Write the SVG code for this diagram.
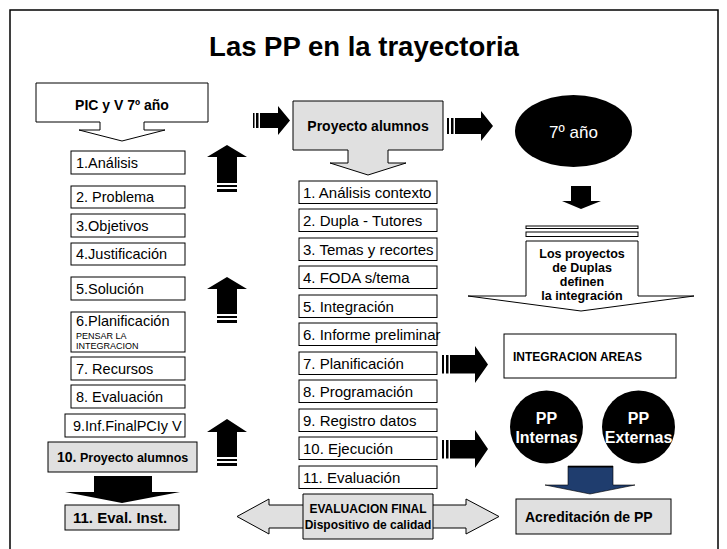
<svg xmlns="http://www.w3.org/2000/svg" width="727" height="549" viewBox="0 0 727 549">
<style>
text{font-family:"Liberation Sans",Arial,sans-serif;fill:#000}
.box{fill:#fff;stroke:#000;stroke-width:1}
.gbox{fill:#e0e0e0;stroke:#000;stroke-width:1}
.blk{fill:#000;stroke:none}
.l{font-size:14.5px}
.m{font-size:15px}
.b{font-weight:bold}
.w{fill:#fff}
</style>
<rect x="10" y="10" width="708" height="580" fill="#fff" stroke="#000" stroke-width="1.5"/>
<text x="364" y="56" text-anchor="middle" class="b" font-size="27.5">Las PP en la trayectoria</text>

<g id="connectors">
  <g id="arrow-right-1">
    <rect class="blk" x="253" y="113" width="1.5" height="15"/>
    <rect class="blk" x="256" y="113" width="2.5" height="15"/>
    <path class="blk" d="M260,113 H278 V106 L290,120.5 L278,135 V128 H260 Z"/>
  </g>
  <g id="arrow-right-2">
    <rect class="blk" x="447" y="118" width="2" height="16"/>
    <rect class="blk" x="451" y="118" width="2.5" height="16"/>
    <path class="blk" d="M455,118 H481 V111 L493,126 L481,141 V134 H455 Z"/>
  </g>
  <g id="arrow-right-3">
    <rect class="blk" x="442" y="355" width="2" height="18.5"/>
    <rect class="blk" x="446" y="355" width="2.5" height="18.5"/>
    <path class="blk" d="M450,355 H475 V346 L488,364.5 L475,383 V373.5 H450 Z"/>
  </g>
  <g id="arrow-right-4">
    <rect class="blk" x="442" y="440" width="2" height="18.5"/>
    <rect class="blk" x="446" y="440" width="2.5" height="18.5"/>
    <path class="blk" d="M450,440 H475 V430 L488,449 L475,468 V458.5 H450 Z"/>
  </g>
  <g id="arrow-up-1">
    <path class="blk" d="M217,183 V157 H207 L227,145 L247,157 H237 V183 Z"/>
    <rect class="blk" x="217" y="185" width="20" height="2"/>
    <rect class="blk" x="217" y="189" width="20" height="3"/>
  </g>
  <g id="arrow-up-2">
    <path class="blk" d="M217,314 V289 H207 L227,277 L247,289 H237 V314 Z"/>
    <rect class="blk" x="217" y="316" width="20" height="2"/>
    <rect class="blk" x="217" y="320" width="20" height="3"/>
  </g>
  <g id="arrow-up-3">
    <path class="blk" d="M217,457 V432 H207 L227,419 L247,432 H237 V457 Z"/>
    <rect class="blk" x="217" y="459" width="20" height="2"/>
    <rect class="blk" x="217" y="463" width="20" height="3"/>
  </g>
  <g id="arrow-down-left">
    <path class="blk" d="M94,476 H152 V492 H180 L122,503 L65,492 H94 Z"/>
  </g>
  <g id="arrow-down-7">
    <path class="blk" d="M571,186 H591 V201 H601 L581,209 L562,201 H571 Z"/>
  </g>
  <g id="arrow-down-blue">
    <path d="M568,466 H613 V485 H635 L590,494 L545,485 H568 Z" fill="#1f3d6e" stroke="#000" stroke-width="0.6"/>
    <rect class="blk" x="568" y="466" width="45" height="1.5"/>
  </g>
</g>

<g id="pic">
  <path class="box" d="M36,83 H208 V122 H144 V130 H165 L122,141 L79,130 H100 V122 H36 Z"/>
  <text x="122" y="110" text-anchor="middle" class="b" font-size="14">PIC y V 7º año</text>
</g>

<g id="l1"><rect class="box" x="71" y="151" width="114" height="23"/><text x="76" y="168" class="l">1.Análisis</text></g>
<g id="l2"><rect class="box" x="71" y="186" width="114" height="22"/><text x="76" y="202" class="l">2. Problema</text></g>
<g id="l3"><rect class="box" x="71" y="214" width="114" height="23"/><text x="76" y="231" class="l">3.Objetivos</text></g>
<g id="l4"><rect class="box" x="71" y="243" width="114" height="22"/><text x="76" y="259" class="l">4.Justificación</text></g>
<g id="l5"><rect class="box" x="71" y="277" width="114" height="23"/><text x="76" y="294" class="l">5.Solución</text></g>
<g id="l6"><rect class="box" x="71" y="312" width="114" height="40"/><text x="76" y="326" class="l">6.Planificación</text><text x="76" y="338.5" font-size="9">PENSAR LA</text><text x="76" y="349" font-size="9">INTEGRACION</text></g>
<g id="l7"><rect class="box" x="71" y="357" width="114" height="23"/><text x="76" y="374" class="l">7. Recursos</text></g>
<g id="l8"><rect class="box" x="71" y="385" width="114" height="23"/><text x="76" y="402" class="l">8. Evaluación</text></g>
<g id="l9"><rect class="box" x="65" y="414" width="120" height="23"/><text x="73" y="431" class="l">9.Inf.FinalPCIy V</text></g>
<g id="l10"><rect class="gbox" x="48" y="442" width="149" height="30"/><text x="57" y="462" class="b"><tspan font-size="14">10.</tspan><tspan font-size="12.5"> Proyecto alumnos</tspan></text></g>
<g id="l11"><rect class="gbox" x="65" y="505" width="114" height="25"/><text x="73" y="523" class="b" font-size="15">11. Eval. Inst.</text></g>

<g id="proyecto">
  <path class="gbox" d="M293,101 H443 V150 H388 V163 H406 L368,175 L330,163 H348 V150 H293 Z"/>
  <text x="368" y="131" text-anchor="middle" class="b" font-size="14">Proyecto alumnos</text>
</g>

<g id="m1"><rect class="box" x="299" y="181" width="138" height="22.5"/><text x="303" y="197.5" class="m">1. Análisis contexto</text></g>
<g id="m2"><rect class="box" x="299" y="209" width="138" height="22.5"/><text x="303" y="225.5" class="m">2. Dupla - Tutores</text></g>
<g id="m3"><rect class="box" x="299" y="238" width="138" height="22.5"/><text x="303" y="254.5" class="m">3. Temas y recortes</text></g>
<g id="m4"><rect class="box" x="299" y="266" width="138" height="22.5"/><text x="303" y="282.5" class="m">4. FODA s/tema</text></g>
<g id="m5"><rect class="box" x="299" y="295" width="138" height="22.5"/><text x="303" y="311.5" class="m">5. Integración</text></g>
<g id="m6"><rect class="box" x="299" y="323" width="138" height="22.5"/><text x="303" y="339.5" class="m">6. Informe preliminar</text></g>
<g id="m7"><rect class="box" x="299" y="352" width="138" height="22.5"/><text x="303" y="368.5" class="m">7. Planificación</text></g>
<g id="m8"><rect class="box" x="299" y="380" width="138" height="22.5"/><text x="303" y="396.5" class="m">8. Programación</text></g>
<g id="m9"><rect class="box" x="299" y="409" width="138" height="22.5"/><text x="303" y="425.5" class="m">9. Registro datos</text></g>
<g id="m10"><rect class="box" x="299" y="437" width="138" height="22.5"/><text x="303" y="453.5" class="m">10. Ejecución</text></g>
<g id="m11"><rect class="box" x="299" y="466" width="138" height="22.5"/><text x="303" y="482.5" class="m">11. Evaluación</text></g>

<g id="evaluacion-final">
  <path class="gbox" d="M303,494 H433 V505 H466 V499 L499,516.5 L466,534 V528 H433 V539 H303 V528 H269 V534 L237,516.5 L269,499 V505 H303 Z"/>
  <path d="M303,505 V528 M433,505 V528" stroke="#000" stroke-width="1"/>
  <text x="368" y="513" text-anchor="middle" class="b" font-size="12">EVALUACION FINAL</text>
  <text x="368" y="529" text-anchor="middle" class="b" font-size="12">Dispositivo de calidad</text>
</g>

<g id="septimo">
  <ellipse cx="573.5" cy="131" rx="58.5" ry="36" fill="#000"/>
  <text x="573.5" y="138" text-anchor="middle" class="w" font-size="17">7º año</text>
</g>

<g id="duplas">
  <rect class="box" x="526" y="226" width="112" height="2.5"/>
  <rect class="box" x="526" y="232" width="112" height="4.5"/>
  <path class="box" d="M526,241 H638 V296 H694 L581,311 L468,296 H526 Z"/>
  <text x="582" y="258" text-anchor="middle" class="b" font-size="12.5">Los proyectos</text>
  <text x="582" y="272" text-anchor="middle" class="b" font-size="12.5">de Duplas</text>
  <text x="582" y="286" text-anchor="middle" class="b" font-size="12.5">definen</text>
  <text x="582" y="300" text-anchor="middle" class="b" font-size="12.5">la integración</text>
</g>

<g id="integracion">
  <rect class="box" x="504" y="334" width="172" height="44"/>
  <text x="513" y="361" class="b" font-size="12">INTEGRACION AREAS</text>
</g>

<g id="pp-internas">
  <circle cx="546.5" cy="427" r="36.5" fill="#000"/>
  <text x="546.5" y="424" text-anchor="middle" class="b w" font-size="16">PP</text>
  <text x="546.5" y="443" text-anchor="middle" class="b w" font-size="16">Internas</text>
</g>
<g id="pp-externas">
  <circle cx="638.5" cy="427" r="36.5" fill="#000"/>
  <text x="638.5" y="424" text-anchor="middle" class="b w" font-size="16">PP</text>
  <text x="638.5" y="443" text-anchor="middle" class="b w" font-size="16">Externas</text>
</g>

<g id="acreditacion">
  <rect class="gbox" x="516" y="499" width="155" height="35"/>
  <text x="525" y="522" class="b" font-size="14">Acreditación de PP</text>
</g>
</svg>
